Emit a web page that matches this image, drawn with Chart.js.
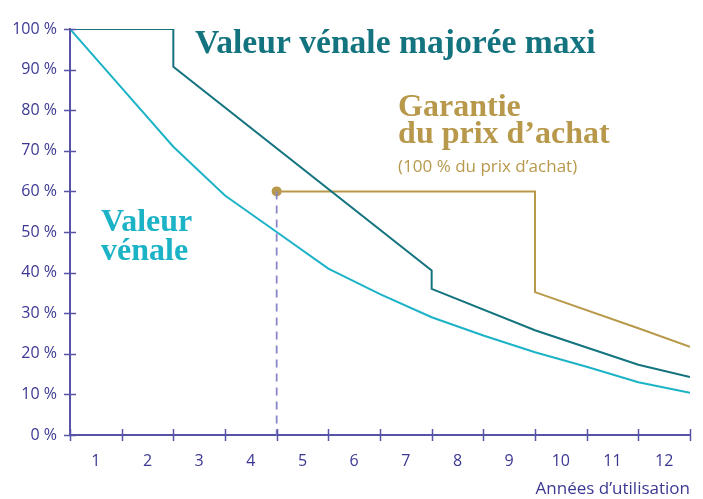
<!DOCTYPE html>
<html><head><meta charset="utf-8">
<script src="https://cdn.jsdelivr.net/npm/chart.js@4.4.0/dist/chart.umd.min.js"></script>
<style>html,body{margin:0;padding:0;background:#fff}#wrap{width:703px;height:499px}</style>
</head><body><div id="wrap"><canvas id="c" width="703" height="499"></canvas></div>
<script>
// Years (x) and percentage values (y)
const venaleYears  = [0, 1, 2, 3, 4, 5, 6, 7, 8, 9, 10, 11, 12];
const venaleValues = [100, 85.5, 71, 59, 50, 41, 34.7, 29, 24.5, 20.4, 16.8, 13, 10.4];

const majoreeYears  = [0, 2, 2, 7, 7, 9, 11, 12];
const majoreeValues = [100, 100, 90.7, 40.5, 36, 25.8, 17.3, 14.3];

const garantieYears  = [4, 9, 9, 11, 12];
const garantieValues = [60, 60, 35.2, 26.3, 21.7];

const guideYears  = [4, 4];
const guideValues = [60, 0];

const yearTickLabels = ['1','2','3','4','5','6','7','8','9','10','11','12'];

const COL_AXIS = '#5754a6', COL_TEXT = '#3b3892';
const COL_DARK = '#13737e', COL_CYAN = '#1cb3c7', COL_GOLD = '#b8994b';

const pts = (xs, ys) => xs.map((x, i) => ({x, y: ys[i]}));

const labelsPlugin = {
  id: 'labels',
  afterDraw(chart) {
    const {ctx, scales: {x, y}} = chart;
    const items = [
      {t: 'Valeur vénale majorée maxi', vx: 2.42, vy: 94.2, c: COL_DARK, f: 'bold 33.6px "Liberation Serif"'},
      {t: 'Garantie', vx: 6.35, vy: 78.6, c: COL_GOLD, f: 'bold 32px "Liberation Serif"'},
      {t: 'du prix d\u2019achat', vx: 6.35, vy: 71.9, c: COL_GOLD, f: 'bold 32px "Liberation Serif"'},
      {t: '(100 % du prix d\u2019achat)', vx: 6.35, vy: 64.8, c: COL_GOLD, f: '17px "Open Sans"'},
      {t: 'Valeur', vx: 0.6, vy: 50.3, c: COL_CYAN, f: 'bold 32px "Liberation Serif"'},
      {t: 'vénale', vx: 0.6, vy: 43.2, c: COL_CYAN, f: 'bold 32px "Liberation Serif"'}
    ];
    ctx.save();
    ctx.textBaseline = 'alphabetic';
    ctx.textAlign = 'left';
    items.forEach(it => {
      ctx.font = it.f; ctx.fillStyle = it.c;
      ctx.fillText(it.t, x.getPixelForValue(it.vx), y.getPixelForValue(it.vy));
    });
    ctx.restore();
  },
  afterDatasetsDraw(chart) {
    // crossing tick marks on both axes
    const {ctx, scales: {x, y}} = chart;
    ctx.save();
    ctx.strokeStyle = COL_AXIS; ctx.lineWidth = 1.5;
    const y0 = y.getPixelForValue(0), x0 = x.getPixelForValue(0);
    ctx.beginPath();
    for (let v = 0; v <= 12; v++) {
      const px = Math.round(x.getPixelForValue(v)) + 0.5;
      ctx.moveTo(px, y0 - 6); ctx.lineTo(px, y0 + 6);
    }
    for (let v = 0; v <= 100; v += 10) {
      const py = Math.round(y.getPixelForValue(v)) + 0.5;
      ctx.moveTo(x0 - 6, py); ctx.lineTo(x0 + 6, py);
    }
    ctx.stroke();
    ctx.restore();
  }
};

new Chart(document.getElementById('c'), {
  type: 'line',
  data: {
    datasets: [
      {data: pts(guideYears, guideValues), borderColor: '#8a87c9', borderWidth: 1.8, borderDash: [8, 6], pointRadius: 0},
      {data: pts(venaleYears, venaleValues), borderColor: COL_CYAN, borderWidth: 2, pointRadius: 0},
      {data: pts(majoreeYears, majoreeValues), borderColor: COL_DARK, borderWidth: 2, pointRadius: 0},
      {data: pts(garantieYears, garantieValues), borderColor: COL_GOLD, borderWidth: 2,
       pointRadius: ctx => ctx.dataIndex === 0 ? 5 : 0, pointBackgroundColor: COL_GOLD, pointBorderWidth: 0}
    ]
  },
  options: {
    responsive: false, animation: false,
    layout: {padding: {left: 0, right: 13, top: 29, bottom: 0}},
    plugins: {legend: {display: false}, tooltip: {enabled: false}},
    elements: {line: {tension: 0}},
    scales: {
      x: {
        type: 'linear', min: 0, max: 12,
        afterBuildTicks: s => { s.ticks = yearTickLabels.map((l, i) => ({value: i + 0.5})); },
        afterFit: s => { s.height = 64; },
        ticks: {color: COL_TEXT, font: {family: 'Open Sans', size: 16}, padding: 17, maxRotation: 0, autoSkip: false,
                callback: (v, i) => yearTickLabels[i]},
        grid: {display: true, drawOnChartArea: false, drawTicks: false, color: 'rgba(0,0,0,0)'},
        border: {display: true, color: COL_AXIS, width: 2},
        title: {display: true, text: 'Années d\u2019utilisation', align: 'end', color: COL_TEXT,
                font: {family: 'Open Sans', size: 17}, padding: {top: 4, bottom: 0}}
      },
      y: {
        min: 0, max: 100,
        afterFit: s => { s.width = 70; },
        ticks: {stepSize: 10, color: COL_TEXT, font: {family: 'Open Sans', size: 16}, padding: 13,
                callback: v => v + ' %'},
        grid: {display: true, drawOnChartArea: false, drawTicks: false, color: 'rgba(0,0,0,0)'},
        border: {display: true, color: COL_AXIS, width: 2}
      }
    }
  },
  plugins: [labelsPlugin]
});
</script></body></html>
